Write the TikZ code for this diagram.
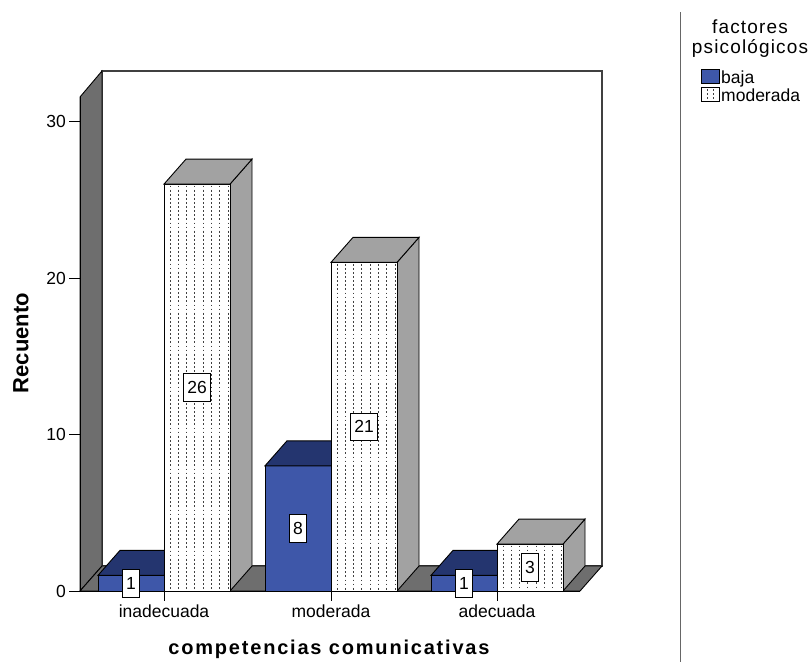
\documentclass[tikz,border=0pt]{standalone}
\usepackage{fontspec}
\setmainfont{Liberation Sans}
\definecolor{bajafront}{HTML}{3E57A9}
\definecolor{bajatop}{HTML}{24356F}
\definecolor{modgray}{HTML}{A2A2A2}
\definecolor{wallgray}{HTML}{6E6E6E}
\tikzset{
  edge/.style={draw=black, line width=0.9pt, line join=miter},
  valbox/.style={draw=black, fill=white, line width=0.8pt, font=\fontsize{17.5}{20}\selectfont,
    inner xsep=3.75pt, inner ysep=7.5pt, text height=12.5pt, text depth=0pt},
  ticklab/.style={font=\fontsize{17.5}{20}\selectfont, anchor=east, inner sep=0pt},
  catlab/.style={font=\fontsize{17.5}{20}\selectfont, anchor=base, inner sep=0pt},
  leglab/.style={font=\fontsize{17.5}{20}\selectfont, anchor=base west, inner sep=0pt},
  legtitle/.style={font=\fontsize{19}{22}\selectfont\addfontfeature{LetterSpace=6}, anchor=base, inner sep=0pt},
  dotline/.style={draw=black!75, line width=0.9pt, dash pattern=on 1.8pt off 2.3pt},
  axisline/.style={draw=black, line width=0.9pt},
}
\newcommand\barbaja[2]{%
  \pgfmathsetmacro\ytop{591-15.65*#2}%
  \pgfmathsetmacro\xr{#1+66}%
  \filldraw[edge, fill=bajatop] (\xr,\ytop) -- ++(22,-25) -- ({\xr+22},566) -- (\xr,591) -- cycle;
  \filldraw[edge, fill=bajafront] (#1,\ytop) rectangle (\xr,591);
  \filldraw[edge, fill=bajatop] (#1,\ytop) -- ++(22,-25) -- ++(66,0) -- (\xr,\ytop) -- cycle;
}
\newcommand\barmod[2]{%
  \pgfmathsetmacro\ytop{591-15.65*#2}%
  \pgfmathsetmacro\xr{#1+66}%
  \filldraw[edge, fill=modgray] (\xr,\ytop) -- ++(22,-25) -- ({\xr+22},566) -- (\xr,591) -- cycle;
  \fill[white] (#1,\ytop) rectangle (\xr,591);
  \foreach \k in {0,...,7} {\draw[dotline] ({#1+6+8.3*\k},{\ytop+1.5}) -- ({#1+6+8.3*\k},590);}
  \draw[edge] (#1,\ytop) rectangle (\xr,591);
  \filldraw[edge, fill=modgray] (#1,\ytop) -- ++(22,-25) -- ++(66,0) -- (\xr,\ytop) -- cycle;
}
\begin{document}
\begin{tikzpicture}[x=1pt,y=-1pt]
\path[use as bounding box] (0,0) rectangle (810,662);
% back wall
\filldraw[fill=white, draw=black!75, line width=1.6pt] (102,71) rectangle (602,566);
% left wall
\filldraw[edge, fill=wallgray] (80,591) -- (80,97) -- (102,71) -- (102,566) -- cycle;
% floor
\filldraw[edge, fill=wallgray] (80,591) -- (102,566) -- (602,566) -- (580,591) -- cycle;
% bars
\barbaja{98}{1}
\barmod{164}{26}
\barbaja{265}{8}
\barmod{331}{21}
\barbaja{431}{1}
\barmod{497}{3}
% axes
\draw[axisline] (80,97) -- (80,591);
\draw[axisline] (80,591) -- (580,591);
\foreach \v/\n in {0/t0,10/t1,20/t2,30/t3} {
  \draw[axisline] (69,{591-15.65*\v}) -- (80,{591-15.65*\v});
  \node[ticklab] (\n) at (66,{591-15.65*\v}) {\v};
}
\foreach \x/\lab/\n in {164/inadecuada/c1,331/moderada/c2,497/adecuada/c3} {
  \draw[axisline] (\x,591) -- (\x,601);
  \node[catlab] (\n) at (\x,617.5) {\lab};
}
% value labels
\node[valbox] (v1) at (131,583.2) {1};
\node[valbox] (v2) at (197,387.5) {26};
\node[valbox] (v3) at (298,528.4) {8};
\node[valbox] (v4) at (364,426.7) {21};
\node[valbox] (v5) at (464,583.2) {1};
\node[valbox] (v6) at (530,567.5) {3};
% axis titles
\node[rotate=90, font=\bfseries\fontsize{22}{26}\selectfont, inner sep=0pt] (ytitle) at (21,343) {Recuento};
\node[anchor=base, font=\bfseries\fontsize{20}{24}\selectfont\addfontfeature{LetterSpace=9}, inner sep=0pt] (xtitle) at (329,654) {competencias comunicativas};
% legend
\draw[draw=black!60, line width=1pt] (680,12) -- (680,662);
\node[legtitle] (lt1) at (750,33) {factores};
\node[legtitle] (lt2) at (750,53.5) {psicológicos};
\filldraw[edge, fill=bajafront] (701,69.5) rectangle (719,83.5);
\node[leglab] (lb) at (721,83.5) {baja};
\fill[white] (701,87.5) rectangle (719,101);
\draw[dotline] (707,89) -- (707,100);
\draw[dotline] (713,89) -- (713,100);
\draw[edge] (701,87.5) rectangle (719,101);
\node[leglab] (lm) at (721,101.5) {moderada};
\end{tikzpicture}
\end{document}
